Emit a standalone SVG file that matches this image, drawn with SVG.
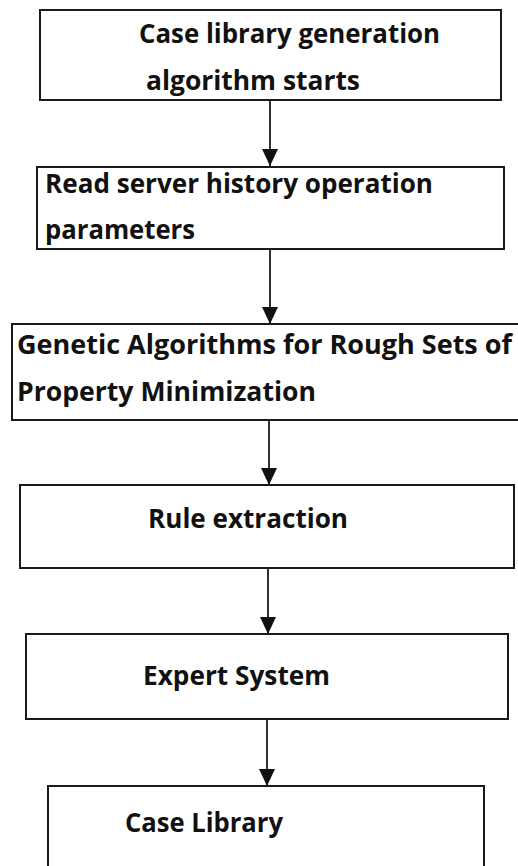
<svg xmlns="http://www.w3.org/2000/svg" width="518" height="866" viewBox="0 0 518 866">
  <style>
    .box { fill: #ffffff; stroke: #1a1a1a; stroke-width: 2; }
    .lbl { font-family: "Open Sans", "Noto Sans", "Liberation Sans", sans-serif; font-weight: 700; font-size: 26px; fill: #111111; }
    .edge { stroke: #1a1a1a; stroke-width: 1.8; fill: none; marker-end: url(#head); }
  </style>
  <defs>
    <!-- solid triangular arrowhead, tip at the line end -->
    <marker id="head" markerWidth="17" markerHeight="16" refX="17" refY="8" orient="auto" markerUnits="userSpaceOnUse" viewBox="0 0 17 16">
      <path d="M0,0 L17,8 L0,16 Z" fill="#111111"/>
    </marker>
  </defs>
  <rect width="518" height="866" fill="#ffffff"/>

  <g id="connectors">
    <line class="edge" x1="270" y1="101" x2="270" y2="166"/>
    <line class="edge" x1="270" y1="250" x2="270" y2="324"/>
    <line class="edge" x1="269" y1="421" x2="269" y2="485"/>
    <line class="edge" x1="268" y1="569" x2="268" y2="634"/>
    <line class="edge" x1="267" y1="720" x2="267" y2="786"/>
  </g>

  <g id="start">
    <rect class="box" x="40" y="10" width="461" height="90"/>
    <text class="lbl" x="139" y="43" textLength="301" lengthAdjust="spacingAndGlyphs">Case library generation</text>
    <text class="lbl" x="146" y="90" textLength="214" lengthAdjust="spacingAndGlyphs">algorithm starts</text>
  </g>

  <g id="read-params">
    <rect class="box" x="37" y="167" width="467" height="82"/>
    <text class="lbl" x="45" y="193" textLength="388" lengthAdjust="spacingAndGlyphs">Read server history operation</text>
    <text class="lbl" x="45" y="239" textLength="150" lengthAdjust="spacingAndGlyphs">parameters</text>
  </g>

  <g id="genetic">
    <rect class="box" x="12" y="324" width="530" height="96"/>
    <text class="lbl" x="17" y="354" textLength="495" lengthAdjust="spacingAndGlyphs">Genetic Algorithms for Rough Sets of</text>
    <text class="lbl" x="17" y="401" textLength="299" lengthAdjust="spacingAndGlyphs">Property Minimization</text>
  </g>

  <g id="rules">
    <rect class="box" x="20" y="485" width="494" height="83"/>
    <text class="lbl" x="148" y="528" textLength="200" lengthAdjust="spacingAndGlyphs">Rule extraction</text>
  </g>

  <g id="expert">
    <rect class="box" x="26" y="634" width="482" height="85"/>
    <text class="lbl" x="143" y="685" textLength="187" lengthAdjust="spacingAndGlyphs">Expert System</text>
  </g>

  <g id="case-library">
    <rect class="box" x="48" y="786" width="436" height="100"/>
    <text class="lbl" x="125" y="832" textLength="158" lengthAdjust="spacingAndGlyphs">Case Library</text>
  </g>
</svg>
